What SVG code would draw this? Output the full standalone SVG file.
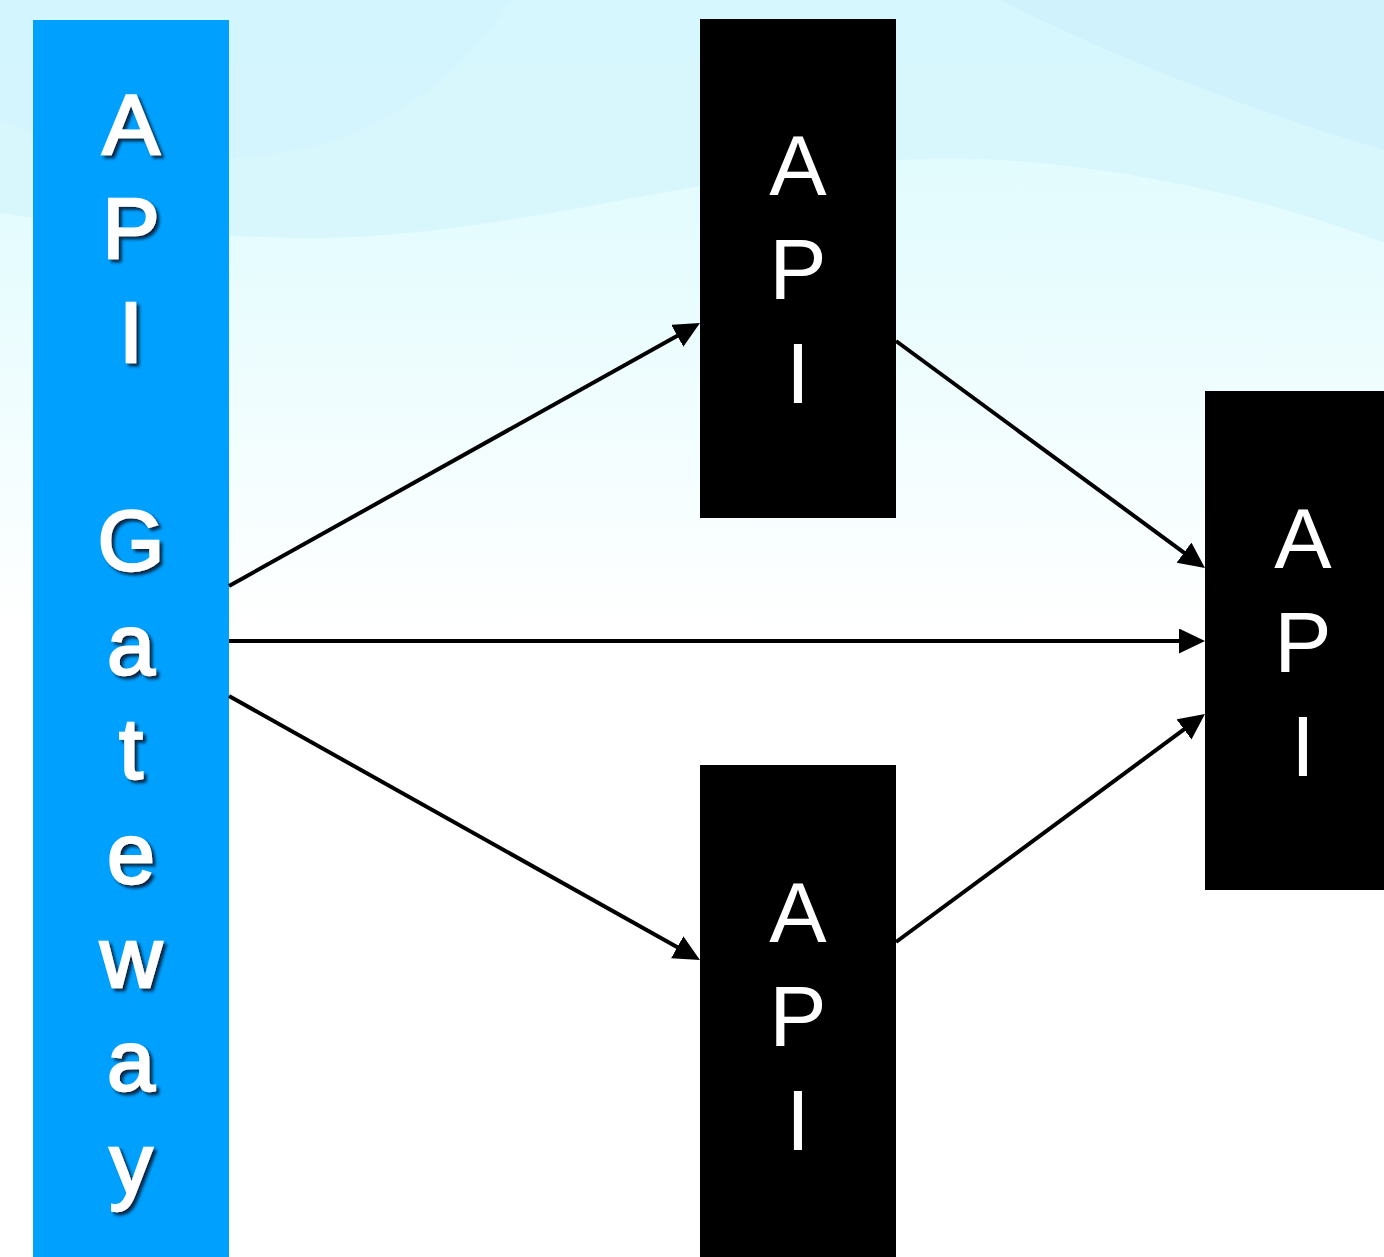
<svg xmlns="http://www.w3.org/2000/svg" width="1384" height="1257" viewBox="0 0 1384 1257">
<defs>
<linearGradient id="bg" x1="0" y1="0" x2="0" y2="1">
<stop offset="0" stop-color="#dcfafd"/>
<stop offset="0.2" stop-color="#e6fcfe"/>
<stop offset="0.5" stop-color="#ffffff"/>
<stop offset="1" stop-color="#ffffff"/>
</linearGradient>
<filter id="sh" x="-30%" y="-30%" width="160%" height="160%">
<feGaussianBlur in="SourceAlpha" stdDeviation="1.5"/>
<feOffset dx="3" dy="3" result="b"/>
<feFlood flood-color="#0a1a30" flood-opacity="0.9"/>
<feComposite in2="b" operator="in"/>
<feMerge><feMergeNode/><feMergeNode in="SourceGraphic"/></feMerge>
</filter>
<marker id="ah" markerUnits="userSpaceOnUse" markerWidth="28" markerHeight="28" refX="13" refY="12.5" orient="auto">
<path d="M0,0 L26,12.5 L0,25 z" fill="#000"/>
</marker>
<style>
.gw{font-family:"Liberation Sans",Arial,sans-serif;font-size:86px;fill:#fff;stroke:#fff;stroke-width:2.5;text-anchor:middle}
.api{font-family:"Liberation Sans",Arial,sans-serif;font-size:86px;fill:#fff;text-anchor:middle}
.conn line{stroke:#000;stroke-width:4;marker-end:url(#ah)}
</style>
</defs>
<rect width="1384" height="1257" fill="url(#bg)"/>
<path d="M0,0 H1384 V243 C1250,190 1050,150 900,160 C700,172 500,240 300,238 C180,236 80,225 0,213 Z" fill="#d3f5fc" opacity="0.7"/>
<path d="M1000,0 C1120,60 1250,110 1384,150 V0 Z" fill="#cdf0fc" opacity="0.8"/>
<path d="M512,0 C470,60 420,110 335,140 C200,180 80,150 0,120 V0 Z" fill="#d0f2fc" opacity="0.4"/>

<g id="gateway">
<rect x="33" y="20" width="196" height="1237" fill="#00a0ff"/>
<g filter="url(#sh)">
<text class="gw" x="131" y="154">A</text>
<text class="gw" x="131" y="258">P</text>
<text class="gw" x="131" y="362">I</text>
<text class="gw" x="131" y="570">G</text>
<text class="gw" x="131" y="674">a</text>
<text class="gw" x="131" y="778">t</text>
<text class="gw" x="131" y="883">e</text>
<text class="gw" x="131" y="987">w</text>
<text class="gw" x="131" y="1090">a</text>
<text class="gw" x="131" y="1193">y</text>
</g>
</g>

<g id="api1">
<rect x="700" y="19" width="196" height="499" fill="#000"/>
<text class="api" x="798" y="195">A</text>
<text class="api" x="798" y="299">P</text>
<text class="api" x="798" y="403">I</text>
</g>

<g id="api2">
<rect x="700" y="765" width="196" height="492" fill="#000"/>
<text class="api" x="798" y="942">A</text>
<text class="api" x="798" y="1046">P</text>
<text class="api" x="798" y="1150">I</text>
</g>

<g id="api3">
<rect x="1205" y="391" width="196" height="499" fill="#000"/>
<text class="api" x="1303" y="568">A</text>
<text class="api" x="1303" y="672">P</text>
<text class="api" x="1303" y="776">I</text>
</g>

<g id="connectors" class="conn">
<line x1="229" y1="586" x2="688.6" y2="329.4"/>
<line x1="229" y1="641" x2="1192" y2="641"/>
<line x1="229" y1="696" x2="688.6" y2="953.6"/>
<line x1="896" y1="341" x2="1194.5" y2="560.3"/>
<line x1="896" y1="942" x2="1194.5" y2="721.7"/>
</g>
</svg>
